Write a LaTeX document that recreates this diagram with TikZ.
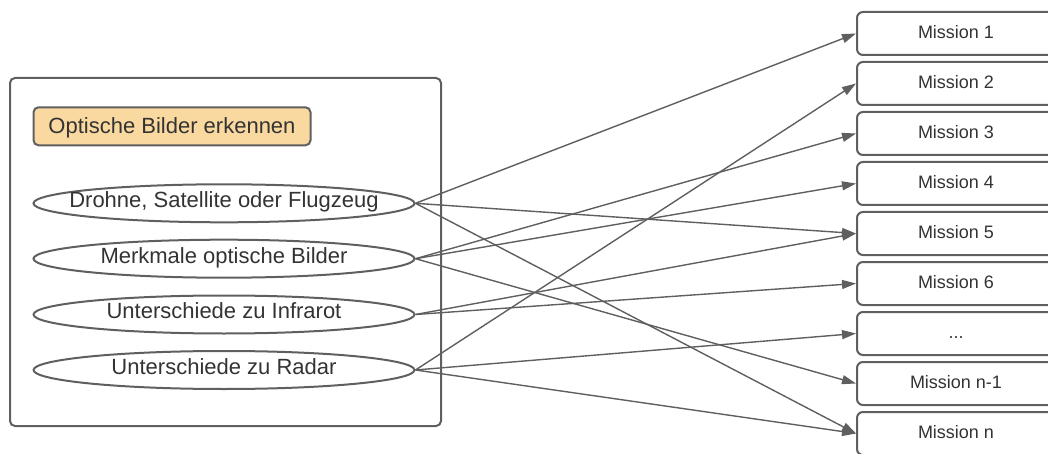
\documentclass[tikz,border=0pt]{standalone}
\usepackage{fontspec}
\setmainfont{Liberation Sans}
\usetikzlibrary{shapes.geometric,arrows.meta}
\definecolor{edge}{HTML}{5F5F5F}
\definecolor{ink}{HTML}{333333}
\definecolor{topicfill}{HTML}{FAD9A1}
\tikzset{
  frame/.style={draw=edge, line width=2pt, rounded corners=5pt},
  topic/.style={draw=edge, line width=2pt, rounded corners=5pt, fill=topicfill,
    minimum width=277pt, minimum height=38pt, inner sep=0pt, text=ink,
    text height=16pt, text depth=1pt,
    font=\fontsize{22}{26}\selectfont},
  aspect/.style={draw=edge, line width=2pt, ellipse, minimum width=381pt,
    minimum height=38pt, inner sep=0pt},
  aspecttext/.style={text=ink, inner sep=0pt, anchor=base,
    font=\fontsize{22}{26}\selectfont},
  mission/.style={draw=edge, line width=2pt, rounded corners=6pt, fill=white,
    minimum width=198pt, minimum height=43pt, inner sep=0pt, text=ink,
    text height=13pt, text depth=3pt,
    font=\fontsize{18}{22}\selectfont},
  link/.style={draw=edge, line width=1.4pt,
    -{Triangle[length=14pt,width=9pt]}},
}
\begin{document}
\begin{tikzpicture}[x=1pt,y=-1pt]
\useasboundingbox (0,0) rectangle (1048,454);
\clip (0,0) rectangle (1048,454);

% container with the topic and its four aspects
\draw[frame] (10,78) rectangle (441,426);
\node[topic] (topic) at (172,126.3) {Optische Bilder erkennen};

\node[aspect] (e1) at (224,203.3) {};
\node[aspect] (e2) at (224,258.7) {};
\node[aspect] (e3) at (224,314.5) {};
\node[aspect] (e4) at (224,370) {};
\node[aspecttext] (e1t) at (224,207.5) {Drohne, Satellite oder Flugzeug};
\node[aspecttext] (e2t) at (224,263) {Merkmale optische Bilder};
\node[aspecttext] (e3t) at (224,318.8) {Unterschiede zu Infrarot};
\node[aspecttext] (e4t) at (224,374.3) {Unterschiede zu Radar};

% column of missions
\node[mission] (m1) at (956,33.5)  {Mission 1};
\node[mission] (m2) at (956,83.5)  {Mission 2};
\node[mission] (m3) at (956,133.5) {Mission 3};
\node[mission] (m4) at (956,183.5) {Mission 4};
\node[mission] (m5) at (956,233.5) {Mission 5};
\node[mission] (m6) at (956,283.5) {Mission 6};
\node[mission] (m7) at (956,333.5) {...};
\node[mission] (m8) at (956,383.5) {Mission n-1};
\node[mission] (m9) at (956,433.5) {Mission n};

% links from aspects to missions
\draw[link] (e1.east) -- (m1.west);
\draw[link] (e1.east) -- (m5.west);
\draw[link] (e1.east) -- (m9.west);
\draw[link] (e2.east) -- (m3.west);
\draw[link] (e2.east) -- (m4.west);
\draw[link] (e2.east) -- (m8.west);
\draw[link] (e3.east) -- (m5.west);
\draw[link] (e3.east) -- (m6.west);
\draw[link] (e4.east) -- (m2.west);
\draw[link] (e4.east) -- (m7.west);
\draw[link] (e4.east) -- (m9.west);
\end{tikzpicture}
\end{document}
